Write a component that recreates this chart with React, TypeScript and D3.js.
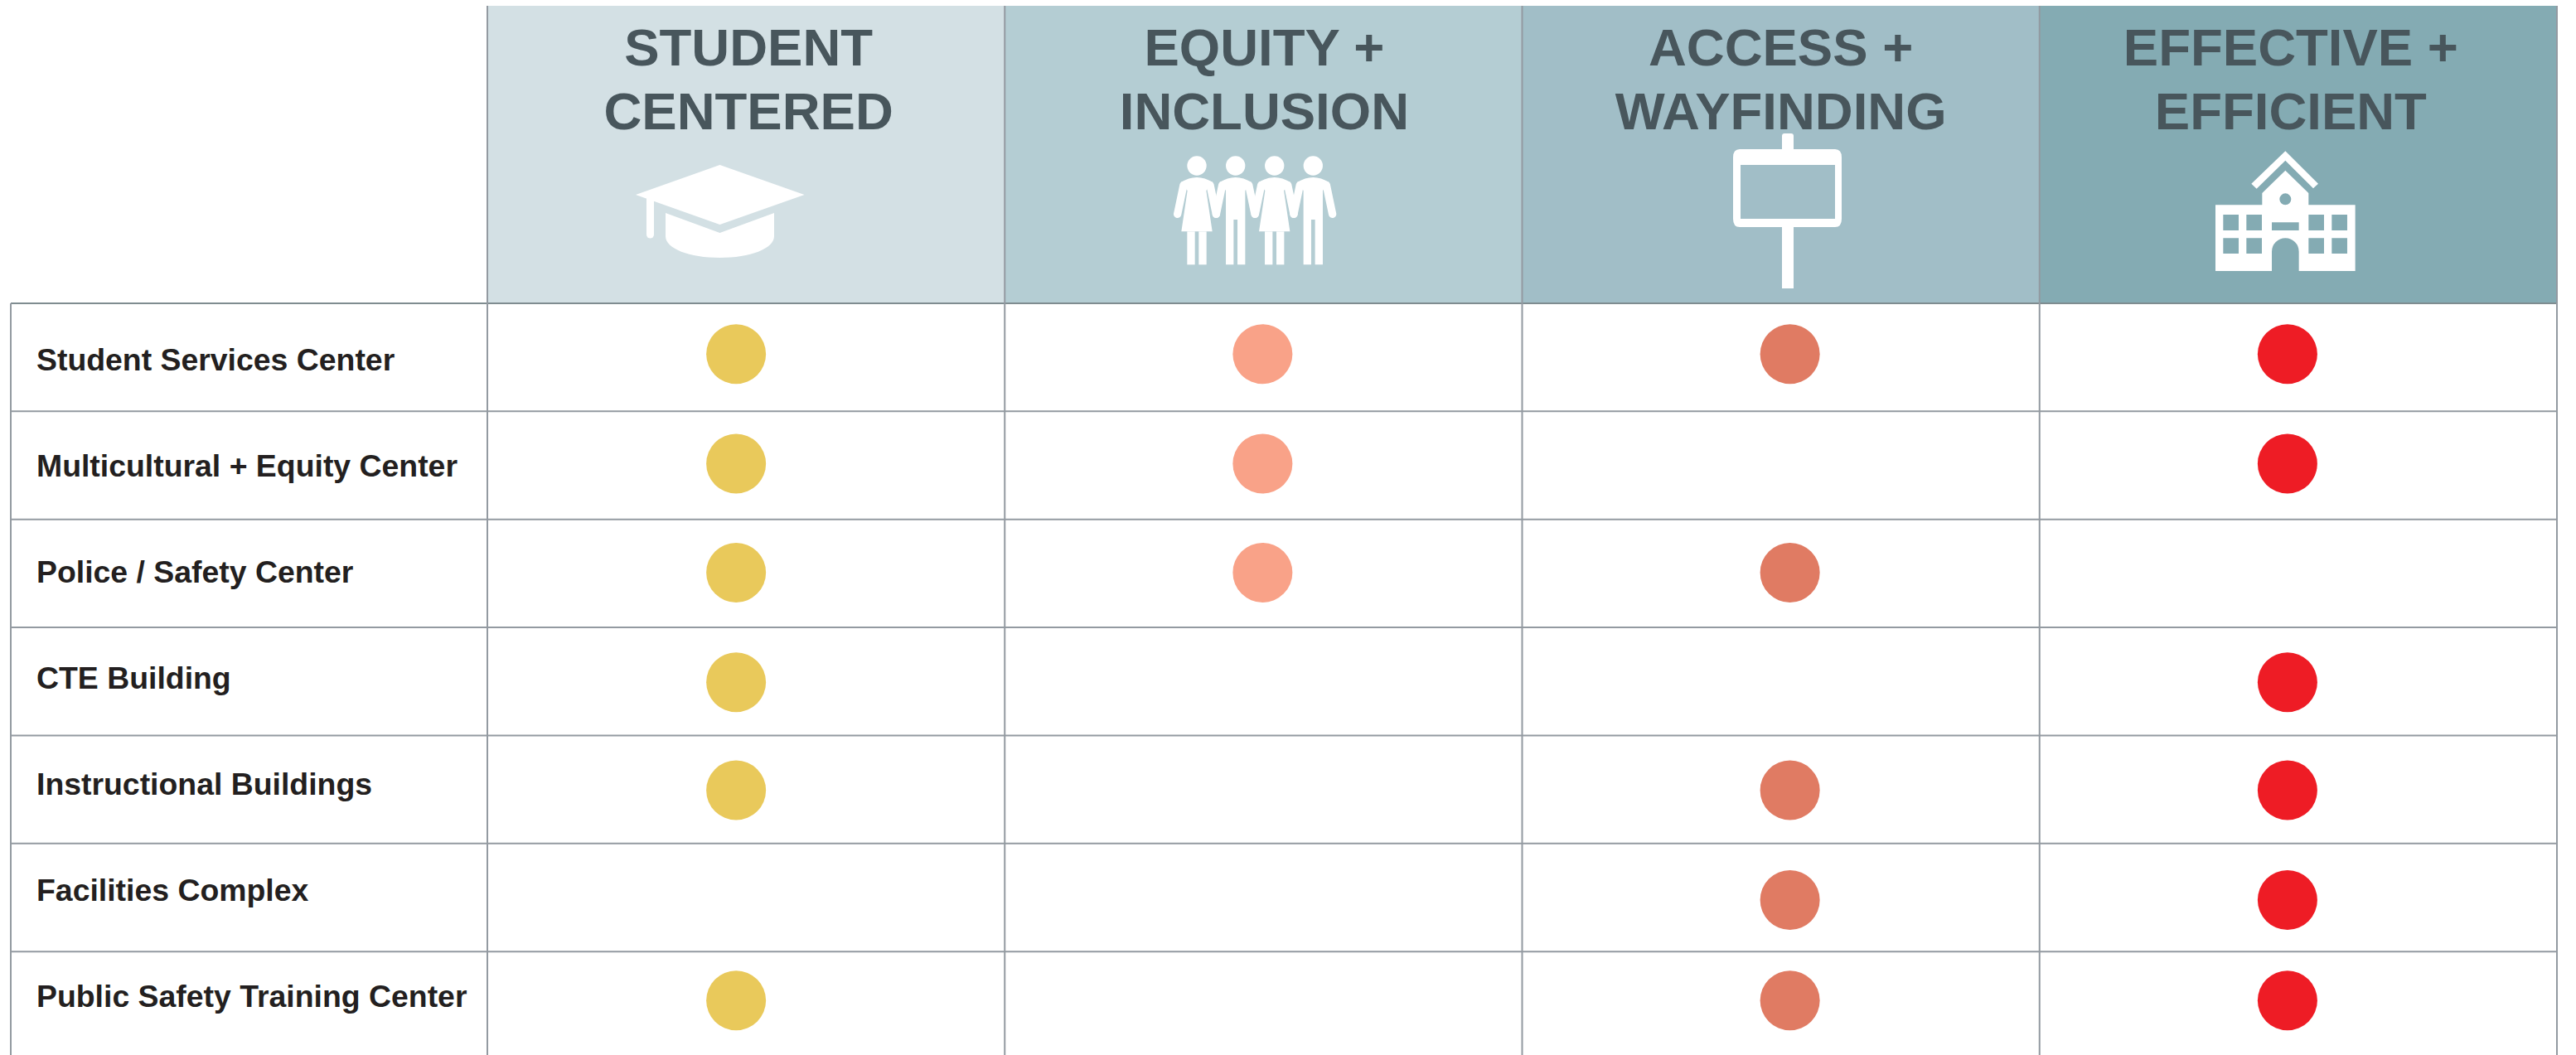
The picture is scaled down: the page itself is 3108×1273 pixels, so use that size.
import React from "react";
import * as d3 from "d3";

const W = 3108;
const H = 1273;

// table content
const columns = ["Student Centered", "Equity + Inclusion", "Access + Wayfinding", "Effective + Efficient"];
const headerLines = [
  ["STUDENT", "CENTERED"],
  ["EQUITY +", "INCLUSION"],
  ["ACCESS +", "WAYFINDING"],
  ["EFFECTIVE +", "EFFICIENT"],
];
const rows = [
  "Student Services Center",
  "Multicultural + Equity Center",
  "Police / Safety Center",
  "CTE Building",
  "Instructional Buildings",
  "Facilities Complex",
  "Public Safety Training Center",
];
const studentCentered = [1, 1, 1, 1, 1, 0, 1];
const equityInclusion = [1, 1, 1, 0, 0, 0, 0];
const accessWayfinding = [1, 0, 1, 0, 1, 1, 1];
const effectiveEfficient = [1, 1, 0, 1, 1, 1, 1];
const matrix = [studentCentered, equityInclusion, accessWayfinding, effectiveEfficient];

const headerFill = ["#d3e0e4", "#b4cdd3", "#a1bec7", "#84abb3"];
const dotFill = ["#e9c95b", "#f9a288", "#e07b63", "#ee1c25"];

// the dots and titles sit a little off the cell centres in the original
const dotNudgeX = [-12, -1, 11, -13];
const dotNudgeY = [-4, -2, -1, 1, 1, 3, -6];
const titleNudgeX = [3, 1, 0, -9];

const x = d3.scaleBand<string>().domain(columns).range([588, 3085]);
const y = d3.scaleBand<string>().domain(rows).range([366, 1278.5]);
const labelY = d3.scalePoint<string>().domain(rows).range([447, 1215]);

const GRID = "#939aa1";

const Cap = () => (
  <g fill="#fff">
    <path d="M767,235 L868.5,199 L970.5,235 L868.5,271 Z" />
    <path d="M780,238 L789,242 L789,283 A4.5,4.5 0 0 1 780,283 Z" />
    <path d="M803,257 L868.5,281 L934,257 L934,285 C934,300 905,311 868.5,311 C832,311 803,300 803,285 Z" />
  </g>
);

const Woman = ({ at }: { at: number }) => (
  <g transform={`translate(${at},170) scale(0.3333)`} fill="#fff" stroke="none">
    <circle cx={0} cy={90} r={35} />
    <path d="M-34,180 L-56,328 L56,328 L34,180 L58,150 Q0,114 -58,150 Z" />
    <rect x={-35} y={328} width={28} height={120} />
    <rect x={7} y={328} width={28} height={120} />
    <path d="M-48,160 L-70,265 M48,160 L70,265" stroke="#fff" strokeWidth={28} strokeLinecap="round" fill="none" />
  </g>
);

const Man = ({ at }: { at: number }) => (
  <g transform={`translate(${at},170) scale(0.3333)`} fill="#fff" stroke="none">
    <circle cx={0} cy={90} r={35} />
    <path d="M-35,448 L-35,180 L-58,150 Q0,114 58,150 L35,180 L35,448 L7,448 L7,285 L-7,285 L-7,448 Z" />
    <path d="M-48,160 L-70,265 M48,160 L70,265" stroke="#fff" strokeWidth={28} strokeLinecap="round" fill="none" />
  </g>
);

const People = () => (
  <g>
    <Woman at={1444} />
    <Man at={1490.7} />
    <Woman at={1537.7} />
    <Man at={1584.3} />
  </g>
);

const Sign = () => (
  <g fill="#fff">
    <rect x={2150} y={161} width={14} height={24} rx={3} />
    <rect x={2150} y={270} width={14} height={78} />
    <path
      fillRule="evenodd"
      d="M2099,180 L2214,180 Q2222,180 2222,190 L2222,264 Q2222,274 2214,274 L2099,274 Q2091,274 2091,264 L2091,190 Q2091,180 2099,180 Z M2100,199 L2100,264 L2214,264 L2214,199 Z"
    />
  </g>
);

const School = () => (
  <g transform="translate(2640,170) scale(0.3333)" fill="#fff">
    <path d="M352,37 L471,155 L453,172 L352,71 L248,173 L229,155 Z" />
    <path
      fillRule="evenodd"
      d={
        "M99,232 L268,232 L268,189 L352,107 L436,189 L436,232 L605,232 L605,471 L401,471 L401,401 A49,49 0 0 0 303,401 L303,471 L99,471 Z " +
        "M331,211 A21,21 0 0 0 373,211 A21,21 0 0 0 331,211 Z " +
        "M127,267 H183 V324 H127 Z M211,267 H267 V324 H211 Z M436,267 H492 V324 H436 Z M520,267 H576 V324 H520 Z " +
        "M127,352 H183 V408 H127 Z M211,352 H267 V408 H211 Z M436,352 H492 V408 H436 Z M520,352 H576 V408 H520 Z " +
        "M303,295 H401 V324 H303 Z"
      }
    />
  </g>
);

export default function App() {
  const colEdges = [...columns.map((c) => x(c) as number), 3085];
  const rowEdges = rows.map((r) => y(r) as number);

  return (
    <svg
      width={W}
      height={H}
      viewBox={`0 0 ${W} ${H}`}
      style={{ position: "absolute", left: 0, top: 0, display: "block", background: "#fff" }}
      fontFamily="'Liberation Sans', Arial, sans-serif"
      fontWeight="bold"
    >
      {/* header cells */}
      {columns.map((c, i) => (
        <g key={c}>
          <rect x={x(c)} y={7} width={x.bandwidth()} height={359} fill={headerFill[i]} />
          {headerLines[i].map((line, j) => (
            <text
              key={line}
              x={(x(c) as number) + x.bandwidth() / 2 + titleNudgeX[i]}
              y={79 + j * 77}
              textAnchor="middle"
              fontSize={63.5}
              fill="#48565c"
            >
              {line}
            </text>
          ))}
        </g>
      ))}

      <Cap />
      <People />
      <Sign />
      <School />

      {/* grid */}
      {rowEdges.map((ry, i) => (
        <line key={i} x1={13} x2={3085} y1={ry} y2={ry} stroke={i === 0 ? "#7f8c90" : GRID} strokeWidth={2} />
      ))}
      <line x1={13} x2={13} y1={366} y2={H} stroke={GRID} strokeWidth={2} />
      {colEdges.map((cx, i) => (
        <line key={i} x1={cx} x2={cx} y1={7} y2={H} stroke={GRID} strokeWidth={2} />
      ))}

      {/* row labels */}
      {rows.map((r) => (
        <text key={r} x={44} y={labelY(r)} fontSize={37.4} fill="#231f20">
          {r}
        </text>
      ))}

      {/* dots */}
      {matrix.map((flags, i) =>
        flags.map((on, j) =>
          on ? (
            <circle
              key={`${i}-${j}`}
              cx={(x(columns[i]) as number) + x.bandwidth() / 2 + dotNudgeX[i]}
              cy={(y(rows[j]) as number) + y.bandwidth() / 2 + dotNudgeY[j]}
              r={36}
              fill={dotFill[i]}
            />
          ) : null
        )
      )}
    </svg>
  );
}
